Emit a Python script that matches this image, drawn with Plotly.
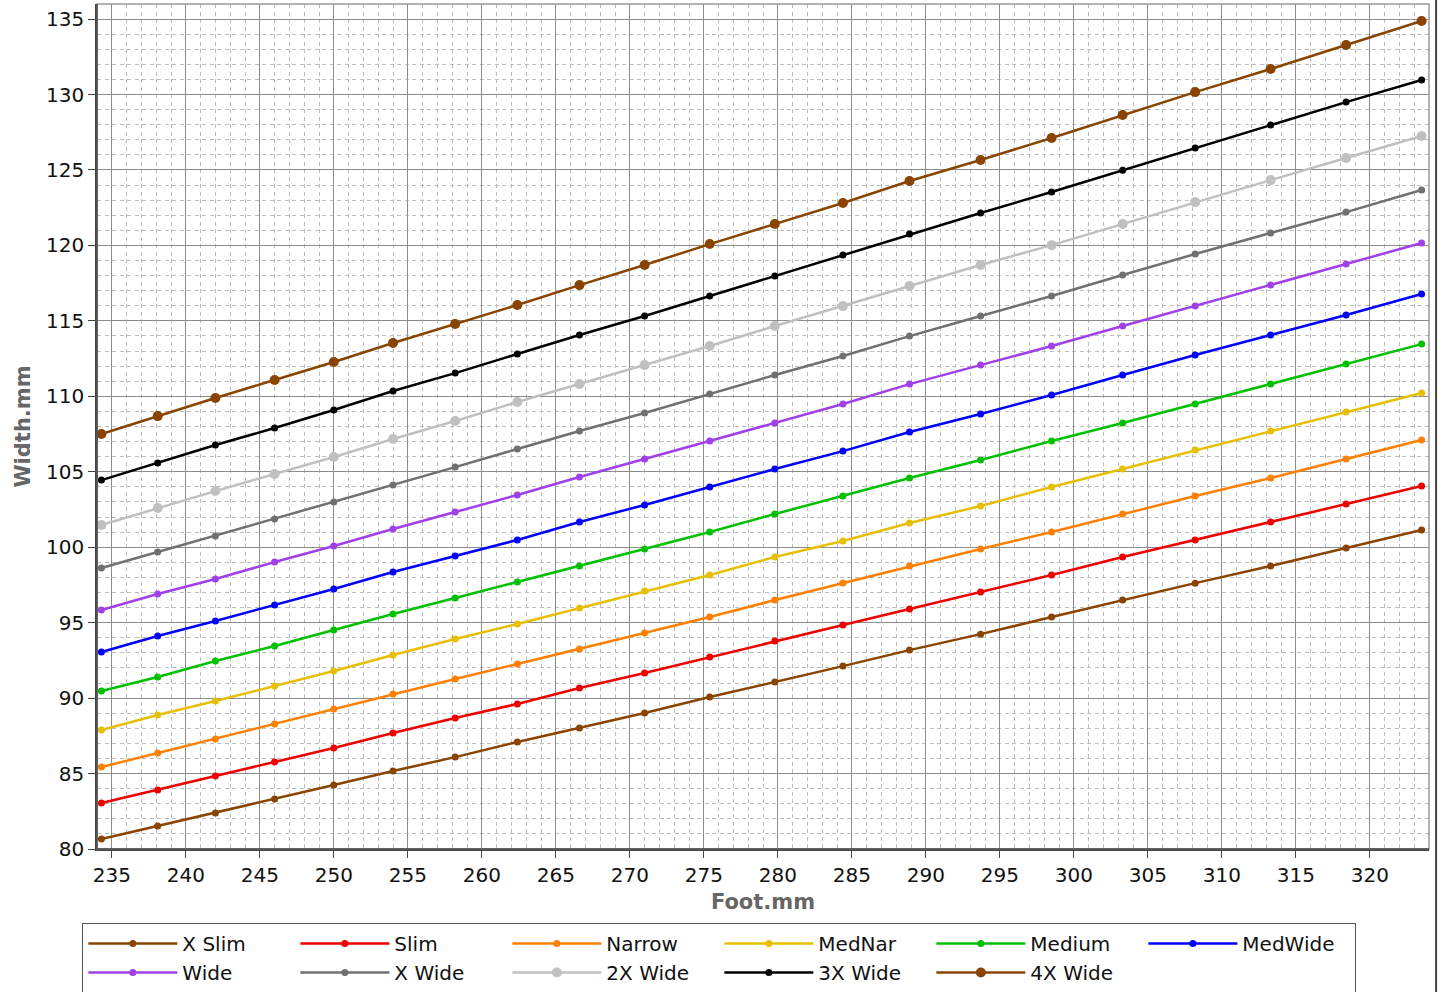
import plotly.graph_objects as go

foot = [234.3, 238.1, 242.0, 246.0, 250.0, 254.0, 258.2, 262.4, 266.6, 271.0, 275.4,
        279.8, 284.4, 288.9, 293.7, 298.5, 303.3, 308.2, 313.3, 318.4, 323.5]

x_slim = [80.66, 81.52, 82.38, 83.31, 84.24, 85.17, 86.09, 87.09, 88.02, 89.01, 90.07,
          91.06, 92.12, 93.18, 94.24, 95.37, 96.50, 97.62, 98.75, 99.94, 101.14]
slim = [83.05, 83.91, 84.84, 85.77, 86.69, 87.69, 88.68, 89.61, 90.67, 91.66, 92.72,
        93.78, 94.84, 95.90, 97.03, 98.16, 99.35, 100.48, 101.67, 102.86, 104.06]
narrow = [85.43, 86.36, 87.29, 88.28, 89.28, 90.27, 91.27, 92.26, 93.25, 94.31, 95.37,
          96.50, 97.63, 98.75, 99.88, 101.01, 102.20, 103.39, 104.59, 105.84, 107.10]
mednar = [87.89, 88.88, 89.81, 90.80, 91.80, 92.86, 93.92, 94.91, 95.97, 97.10, 98.16,
          99.35, 100.41, 101.60, 102.73, 103.99, 105.18, 106.44, 107.70, 108.96, 110.22]
medium = [90.47, 91.40, 92.46, 93.45, 94.51, 95.57, 96.63, 97.69, 98.75, 99.88, 101.01,
          102.20, 103.39, 104.59, 105.78, 107.04, 108.23, 109.49, 110.81, 112.14, 113.46]
medwide = [93.06, 94.12, 95.11, 96.17, 97.23, 98.36, 99.42, 100.48, 101.67, 102.80, 103.99,
           105.18, 106.37, 107.63, 108.83, 110.09, 111.41, 112.74, 114.06, 115.39, 116.78]
wide = [95.84, 96.90, 97.89, 99.02, 100.08, 101.21, 102.33, 103.46, 104.65, 105.84, 107.04,
        108.23, 109.49, 110.81, 112.07, 113.33, 114.66, 115.98, 117.37, 118.77, 120.16]
x_wide = [98.62, 99.68, 100.74, 101.87, 102.99, 104.12, 105.31, 106.51, 107.70, 108.89, 110.15,
          111.41, 112.67, 113.99, 115.32, 116.65, 118.04, 119.43, 120.82, 122.21, 123.67]
wide_2x = [101.47, 102.60, 103.72, 104.85, 105.98, 107.17, 108.36, 109.62, 110.81, 112.07, 113.33,
           114.66, 115.98, 117.31, 118.70, 120.02, 121.42, 122.87, 124.33, 125.79, 127.25]
wide_3x = [104.45, 105.58, 106.77, 107.90, 109.09, 110.35, 111.54, 112.80, 114.06, 115.32, 116.65,
           117.97, 119.36, 120.75, 122.15, 123.54, 124.99, 126.45, 127.98, 129.50, 130.96]
wide_4x = [107.50, 108.69, 109.89, 111.08, 112.27, 113.53, 114.79, 116.05, 117.37, 118.70, 120.09,
           121.42, 122.81, 124.27, 125.66, 127.12, 128.64, 130.16, 131.69, 133.28, 134.87]

names = ["X Slim", "Slim", "Narrow", "MedNar", "Medium", "MedWide",
         "Wide", "X Wide", "2X Wide", "3X Wide", "4X Wide"]
series = [x_slim, slim, narrow, mednar, medium, medwide, wide, x_wide, wide_2x, wide_3x, wide_4x]
colors = ["#884400", "#ee0000", "#ff8000", "#e6c000", "#00c000", "#0000ff",
          "#a040e8", "#707070", "#c0c0c0", "#000000", "#884400"]
msizes = [7, 7, 7, 7, 7, 7, 7, 7, 10, 7, 10]

fig = go.Figure()
for n, s, c, ms in zip(names, series, colors, msizes):
    fig.add_trace(go.Scatter(x=foot, y=s, name=n, mode="lines+markers",
                             line=dict(color=c, width=2.5),
                             marker=dict(color=c, size=ms, symbol="circle")))

font = "DejaVu Sans, Verdana, sans-serif"
common = dict(showgrid=True, gridcolor="#8c8c8c", gridwidth=1,
              showline=True, linecolor="#444444", linewidth=1.5,
              ticks="outside", ticklen=7, tickcolor="#444444", tickwidth=1,
              tickfont=dict(family=font, size=20, color="#111111"),
              zeroline=False, dtick=5, automargin=False,
              minor=dict(dtick=1, showgrid=True, gridcolor="#bdbdbd", griddash="4px,3.5px",
                         gridwidth=1, ticks=""))

fig.update_xaxes(range=[234, 324], tick0=235,
                 title=dict(text="<b>Foot.mm</b>", font=dict(family=font, size=21, color="#666666"),
                            standoff=9),
                 **common)
fig.update_yaxes(range=[80, 136], tick0=80,
                 title=dict(text="<b>Width.mm</b>", font=dict(family=font, size=21, color="#666666"),
                            standoff=10),
                 **common)

fig.add_shape(type="rect", xref="paper", yref="paper", x0=0, x1=1, y0=0, y1=1,
              line=dict(color="#999999", width=1.5), layer="above")
fig.add_shape(type="line", xref="paper", yref="paper", x0=0, x1=0, y0=0, y1=1,
              line=dict(color="#444444", width=1.5), layer="above")
fig.add_shape(type="line", xref="paper", yref="paper", x0=0, x1=1, y0=0, y1=0,
              line=dict(color="#444444", width=1.5), layer="above")
fig.add_shape(type="line", xref="paper", yref="paper", x0=1.0053, x1=1.0053, y0=-0.17, y1=1.006,
              line=dict(color="#444444", width=2), layer="above")

fig.update_layout(
    width=1443, height=992,
    margin=dict(l=97, r=14, t=4, b=143, autoexpand=False),
    paper_bgcolor="white", plot_bgcolor="white",
    font=dict(family=font, size=20, color="#111111"),
    legend=dict(orientation="h", x=-0.011, y=-0.0876, xanchor="left", yanchor="top",
                bordercolor="#555555", borderwidth=1, bgcolor="white",
                entrywidth=108, entrywidthmode="pixels",
                font=dict(family=font, size=20, color="#111111"),
                tracegroupgap=0, itemwidth=89),
)

fig.write_html("out.html", config={"displayModeBar": False},
               post_script="document.body.style.margin='0px';document.body.style.overflow='hidden';")
